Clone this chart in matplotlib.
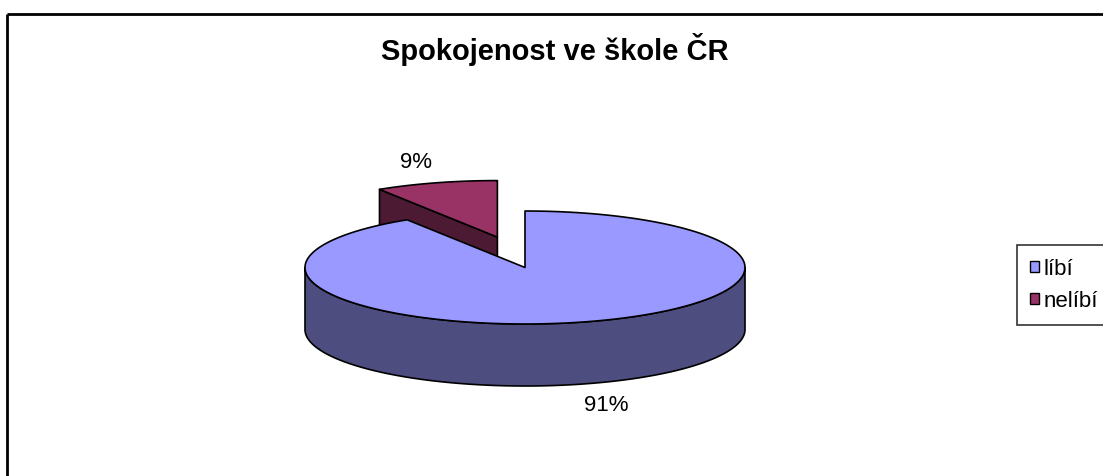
# 3D exploded pie chart, Excel style

import numpy as np
import matplotlib.pyplot as plt
from matplotlib.patches import Polygon, Patch

labels = ['líbí', 'nelíbí']
values = [91, 9]
top_colors = ['#9999FF', '#993366']
side_colors = ['#4D4D80', '#4D1A33']
explode = [0.0, 0.45]
title = 'Spokojenost ve škole ČR'

plt.rcParams['font.family'] = ['Liberation Sans', 'DejaVu Sans']

fig = plt.figure(figsize=(11.03, 4.77), dpi=100)
ax = fig.add_axes([0, 0, 1, 1])
ax.set_xlim(0, 1103)
ax.set_ylim(477, 0)
ax.axis('off')

# Pie geometry in pixels
cx, cy = 525, 268.5
a, b = 220, 56.5
depth = 62
tilt = 0.32


def arc(t1, t2, ox, oy, n=200):
    t = np.radians(np.linspace(t1, t2, n))
    return np.column_stack([ox + a * np.cos(t), oy - b * np.sin(t)])


def rim(t, ox, oy):
    r = np.radians(t)
    return (ox + a * np.cos(r), oy - b * np.sin(r))


# slice angles: start at 12 o'clock, clockwise (= decreasing math angle)
total = float(sum(values))
starts, ends = [], []
ang = 90.0
for v in values:
    starts.append(ang)
    ang -= 360.0 * v / total
    ends.append(ang)

edge = dict(edgecolor='black', lw=1.2, joinstyle='round')

# draw slices back to front: the exploded back slice first
order = [1, 0]
for i in order:
    t_hi = starts[i]
    t_lo = ends[i]
    mid = np.radians((t_hi + t_lo) / 2)
    ox = cx + explode[i] * a * np.cos(mid)
    oy = cy - explode[i] * a * tilt * np.sin(mid)

    # radial side faces that turn toward the viewer
    for t, visible in [(t_hi, np.cos(np.radians(t_hi)) < -1e-6),
                       (t_lo, np.cos(np.radians(t_lo)) > 1e-6)]:
        if visible:
            px, py = rim(t, ox, oy)
            face = [(ox, oy), (px, py), (px, py + depth), (ox, oy + depth)]
            ax.add_patch(Polygon(face, closed=True,
                                 facecolor=side_colors[i], **edge))

    # outer wall, front half (180..360 degrees) where the slice covers it
    span_lo = t_lo % 360
    span_hi = span_lo + (t_hi - t_lo)
    seg_lo = max(180.0, span_lo)
    seg_hi = min(360.0, span_hi)
    if seg_hi > seg_lo:
        top = arc(seg_lo, seg_hi, ox, oy)
        bot = arc(seg_hi, seg_lo, ox, oy + depth)
        ax.add_patch(Polygon(np.vstack([top, bot]), closed=True,
                             facecolor=side_colors[i], **edge))

    # top face
    pts = np.vstack([[ox, oy], arc(t_lo, t_hi, ox, oy)])
    ax.add_patch(Polygon(pts, closed=True, facecolor=top_colors[i], **edge))

    # percentage label
    lx = ox + 1.33 * a * np.cos(mid)
    ly = oy - 1.39 * b * np.sin(mid)
    if np.sin(mid) < 0:
        ly += depth
    ax.text(lx, ly, f'{values[i] / total * 100:.0f}%', fontsize=16,
            ha='center', va='center')

# title
ax.text(555, 60, title, fontsize=21, fontweight='bold',
        ha='center', va='baseline')

# chart area border (top and left visible)
ax.plot([7, 1103], [15, 15], color='black', lw=2, solid_capstyle='butt')
ax.plot([7, 7], [15, 477], color='black', lw=2, solid_capstyle='butt')

# legend
handles = [Patch(facecolor=c, edgecolor='black', lw=1) for c in top_colors]
leg = ax.legend(handles, labels, loc='upper left',
                bbox_to_anchor=(1017 / 1103, 1 - 246 / 477),
                bbox_transform=fig.transFigure, fontsize=16,
                handlelength=0.4, handleheight=0.4, handletextpad=0.2,
                labelspacing=0.5, borderaxespad=0, borderpad=0.6,
                fancybox=False, frameon=True, edgecolor='black')
leg.get_frame().set_linewidth(1.2)

plt.savefig('out.png', dpi=100)
plt.close()
